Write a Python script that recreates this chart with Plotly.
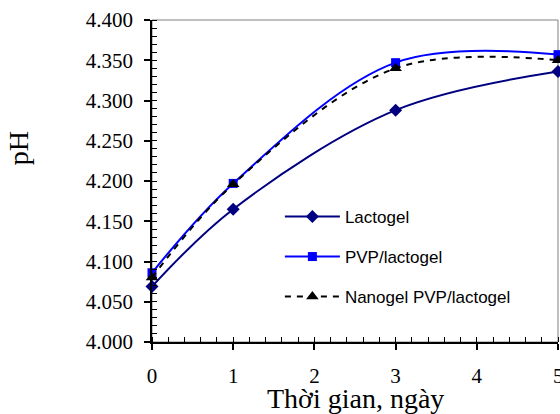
import plotly.graph_objects as go

days = [0, 1, 3, 5]
lactogel = [4.069, 4.165, 4.288, 4.336]
pvp_lactogel = [4.086, 4.197, 4.347, 4.357]
nanogel = [4.080, 4.196, 4.340, 4.350]
x_ticks = [0, 1, 2, 3, 4, 5]
y_ticks = [4.0, 4.05, 4.1, 4.15, 4.2, 4.25, 4.3, 4.35, 4.4]
y_labels = ["%.3f" % v for v in y_ticks]

SERIF = "Liberation Serif"
SANS = "Liberation Sans"

fig = go.Figure()
fig.add_trace(go.Scatter(x=days, y=lactogel, name="Lactogel", mode="lines+markers", legend="legend",
                         line=dict(color="#000080", width=2, shape="spline", smoothing=1),
                         marker=dict(symbol="diamond", size=10, color="#000080")))
fig.add_trace(go.Scatter(x=days, y=pvp_lactogel, name="PVP/lactogel", mode="lines+markers", legend="legend2",
                         line=dict(color="#0000FF", width=2, shape="spline", smoothing=1),
                         marker=dict(symbol="square", size=9, color="#0000FF")))
fig.add_trace(go.Scatter(x=days, y=nanogel, name="Nanogel PVP/lactogel", mode="lines+markers", legend="legend3",
                         line=dict(color="black", width=2, dash="6px,6px", shape="spline", smoothing=1),
                         marker=dict(symbol="triangle-up", size=11, color="black")))

# gray plot frame
fig.add_shape(type="rect", xref="paper", yref="paper", x0=0, y0=0, x1=1, y1=1,
              line=dict(color="#808080", width=1), layer="below")

leg_common = dict(xanchor="left", yanchor="middle",
                  font=dict(family=SANS, size=17, color="black"),
                  bgcolor="rgba(0,0,0,0)", itemwidth=55, borderwidth=0)

# last x tick label drawn as annotation (it sits on the figure's right edge)
x_text = [str(v) for v in x_ticks]
last_label = x_text[-1]
x_text[-1] = ""

fig.update_layout(
    width=560, height=414,
    margin=dict(l=152, r=2, t=20, b=72),
    paper_bgcolor="white", plot_bgcolor="white",
    showlegend=True,
    legend=dict(x=0.315, y=0.388, **leg_common),
    legend2=dict(x=0.315, y=0.264, **leg_common),
    legend3=dict(x=0.315, y=0.140, **leg_common),
    font=dict(family=SERIF, color="black"),
    annotations=[
        dict(text="pH", xref="paper", yref="paper", x=-0.330, y=0.602, textangle=-90,
             showarrow=False, xanchor="center", yanchor="middle",
             font=dict(family=SERIF, size=28, color="black")),
        dict(text="Thời gian, ngày", xref="paper", yref="paper", x=0.5, y=-0.174,
             showarrow=False, xanchor="center", yanchor="middle",
             font=dict(family=SERIF, size=28, color="black")),
        dict(text=last_label, xref="x", yref="paper", x=x_ticks[-1], y=-0.1056,
             showarrow=False, xanchor="center", yanchor="middle",
             font=dict(family=SERIF, size=21, color="black")),
    ],
)
fig.update_xaxes(range=[0, 5], tickvals=x_ticks, ticktext=x_text,
                 automargin=False, ticklabelstandoff=8,
                 showgrid=False, zeroline=False, showline=True, linecolor="black", linewidth=1.5,
                 ticks="outside", ticklen=6, tickcolor="black", tickwidth=1.5,
                 tickfont=dict(family=SERIF, size=21, color="black"),
                 minor=dict(ticks="inside", dtick=0.2, ticklen=5, tickcolor="black", tickwidth=1, showgrid=False))
fig.update_yaxes(range=[4.0, 4.4], tickvals=y_ticks, ticktext=y_labels,
                 automargin=False, ticklabelstandoff=7,
                 showgrid=False, zeroline=False, showline=True, linecolor="black", linewidth=1.5,
                 ticks="outside", ticklen=6, tickcolor="black", tickwidth=1.5,
                 tickfont=dict(family=SERIF, size=21, color="black"),
                 minor=dict(ticks="inside", dtick=0.01, ticklen=5, tickcolor="black", tickwidth=1, showgrid=False))
fig.update_traces(cliponaxis=False)
fig.write_html("out.html", config={"displayModeBar": False},
               post_script="document.body.style.margin='0';document.body.style.overflow='hidden';")
